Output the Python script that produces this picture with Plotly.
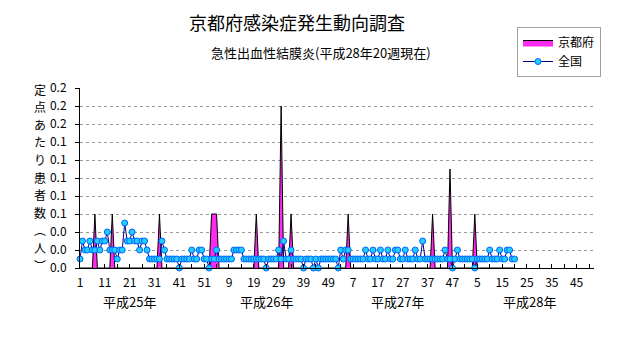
import plotly.graph_objects as go

# 京都府感染症発生動向調査 — 急性出血性結膜炎 定点あたり患者数（週別）
years = ["平成25年", "平成26年", "平成27年", "平成28年"]
weeks_per_year = 52

# 京都府（定点あたり）
kyoto_h25 = [0, 0, 0, 0, 0, 0, 0.06, 0, 0, 0,
             0, 0, 0, 0.06, 0, 0, 0, 0, 0, 0,
             0, 0, 0, 0, 0, 0, 0, 0, 0, 0,
             0, 0, 0.06, 0, 0, 0, 0, 0, 0, 0,
             0, 0, 0, 0, 0, 0, 0, 0, 0, 0,
             0, 0]
kyoto_h26 = [0, 0.06, 0.06, 0.06, 0, 0, 0, 0, 0, 0,
             0, 0, 0, 0, 0, 0, 0, 0, 0, 0.06,
             0, 0, 0, 0, 0, 0, 0, 0, 0, 0.18,
             0, 0, 0, 0.06, 0, 0, 0, 0, 0, 0,
             0, 0, 0, 0, 0, 0, 0, 0, 0, 0,
             0, 0]
kyoto_h27 = [0, 0, 0, 0, 0.06, 0, 0, 0, 0, 0,
             0, 0, 0, 0, 0, 0, 0, 0, 0, 0,
             0, 0, 0, 0, 0, 0, 0, 0, 0, 0,
             0, 0, 0, 0, 0, 0, 0, 0, 0.06, 0,
             0, 0, 0, 0, 0, 0.11, 0, 0, 0, 0,
             0, 0]
kyoto_h28 = [0, 0, 0, 0.06, 0, 0, 0, 0, 0, 0,
             0, 0, 0, 0, 0, 0, 0, 0, 0, 0]

# 全国（定点あたり）
zenkoku_h25 = [0.01, 0.03, 0.02, 0.02, 0.03, 0.02, 0.02, 0.03, 0.02, 0.03,
               0.03, 0.04, 0.02, 0.02, 0.02, 0.01, 0.02, 0.02, 0.05, 0.03,
               0.03, 0.04, 0.03, 0.03, 0.02, 0.03, 0.03, 0.02, 0.01, 0.01,
               0.01, 0.01, 0.01, 0.03, 0.02, 0.01, 0.01, 0.01, 0.01, 0.01,
               0.00, 0.01, 0.01, 0.01, 0.01, 0.02, 0.01, 0.01, 0.02, 0.02,
               0.01, 0.01]
zenkoku_h26 = [0.00, 0.01, 0.01, 0.02, 0.01, 0.01, 0.01, 0.01, 0.01, 0.01,
               0.02, 0.02, 0.02, 0.02, 0.01, 0.01, 0.01, 0.01, 0.01, 0.01,
               0.01, 0.01, 0.01, 0.00, 0.01, 0.01, 0.01, 0.01, 0.02, 0.01,
               0.03, 0.01, 0.01, 0.02, 0.01, 0.01, 0.01, 0.01, 0.00, 0.01,
               0.01, 0.01, 0.00, 0.01, 0.00, 0.01, 0.01, 0.01, 0.01, 0.01,
               0.01, 0.01]
zenkoku_h27 = [0.00, 0.02, 0.01, 0.02, 0.02, 0.01, 0.01, 0.01, 0.01, 0.01,
               0.01, 0.02, 0.01, 0.01, 0.02, 0.01, 0.01, 0.02, 0.01, 0.01,
               0.02, 0.01, 0.01, 0.02, 0.02, 0.01, 0.01, 0.02, 0.01, 0.01,
               0.01, 0.02, 0.01, 0.01, 0.03, 0.01, 0.01, 0.01, 0.01, 0.01,
               0.01, 0.01, 0.01, 0.02, 0.01, 0.01, 0.00, 0.01, 0.02, 0.01,
               0.01, 0.01]
zenkoku_h28 = [0.01, 0.01, 0.01, 0.00, 0.01, 0.01, 0.01, 0.01, 0.01, 0.02,
               0.01, 0.01, 0.01, 0.02, 0.01, 0.01, 0.02, 0.02, 0.01, 0.01]

y_ticks = [0, 0.02, 0.04, 0.06, 0.08, 0.10, 0.12, 0.14, 0.16, 0.18, 0.20]
y_title = "定点あたり患者数︵人︶"


def pad(vals):
    return vals + [None] * (weeks_per_year - len(vals))


kyoto = kyoto_h25 + kyoto_h26 + kyoto_h27 + pad(kyoto_h28)
zenkoku = zenkoku_h25 + zenkoku_h26 + zenkoku_h27 + pad(zenkoku_h28)
n = len(years) * weeks_per_year
x = list(range(n))
week_no = [w for _ in years for w in range(1, weeks_per_year + 1)]

tickvals = list(range(0, n, 5))
ticktext = [str(week_no[i]) if i % 10 == 0 else "" for i in tickvals]

W, H = 631, 347
L, R, T, B = 80, 37, 88, 79
PW, PH = W - L - R, H - T - B
FONT = "Noto Sans CJK JP"


def fx(px):
    return (px - L) / PW


def fy(py):
    return (H - B - py) / PH


fig = go.Figure()
fig.add_trace(go.Scatter(
    x=x, y=kyoto, name="京都府", mode="lines", fill="tozeroy",
    fillcolor="#FF2AF0", line=dict(color="#000000", width=1),
))
fig.add_trace(go.Scatter(
    x=x, y=zenkoku, name="全国", mode="lines+markers", cliponaxis=False,
    line=dict(color="#000080", width=1),
    marker=dict(size=6, color="#22CCFF", line=dict(color="#0066FF", width=1)),
))

annotations = [
    dict(text="京都府感染症発生動向調査", x=fx(297), y=fy(22), font=dict(size=18)),
    dict(text="急性出血性結膜炎(平成28年20週現在)", x=fx(321), y=fy(52), font=dict(size=13)),
]
# vertical axis title, one glyph per row (stacked upright)
row_step = 17.6
for i, ch in enumerate(y_title):
    annotations.append(dict(text=ch, x=fx(40), y=fy(89 + i * row_step), font=dict(size=12)))
year_centers = [20, 75, 128, 181]
for name, cx in zip(years, year_centers):
    annotations.append(dict(text=name, x=cx, xref="x", y=fy(301), font=dict(size=13)))
for a in annotations:
    a.setdefault("xref", "paper")
    a.setdefault("yref", "paper")
    a.update(showarrow=False, xanchor="center", yanchor="middle", borderpad=0)
    a["font"].update(family=FONT, color="#000000")

fig.update_layout(
    width=W, height=H, autosize=False,
    margin=dict(l=L, r=R, t=T, b=B, pad=0, autoexpand=False),
    paper_bgcolor="#FFFFFF", plot_bgcolor="#FFFFFF",
    font=dict(family=FONT, size=12, color="#000000"),
    showlegend=True,
    legend=dict(
        x=fx(517), y=fy(27),
        xanchor="left", yanchor="top", bordercolor="#A0A0A0", borderwidth=1,
        bgcolor="#FFFFFF", font=dict(size=12), itemwidth=30,
    ),
    annotations=annotations,
    xaxis=dict(
        range=[0, n - 1], tickmode="array", tickvals=tickvals, ticktext=ticktext,
        showline=True, linecolor="#000000", linewidth=1, ticks="inside",
        ticklen=4, tickcolor="#000000", showgrid=False, zeroline=False,
        tickfont=dict(size=12), ticklabelstandoff=4,
    ),
    yaxis=dict(
        range=[0, 0.2], tickmode="array", tickvals=y_ticks, tickformat=".1f",
        showline=True, linecolor="#000000", linewidth=1, ticks="outside",
        ticklen=4, tickcolor="#000000", showgrid=True, gridcolor="#9A9A9A",
        griddash="dot", gridwidth=1, zeroline=False, tickfont=dict(size=12),
        ticklabelstandoff=6,
    ),
)

fig.write_html("out.html")
